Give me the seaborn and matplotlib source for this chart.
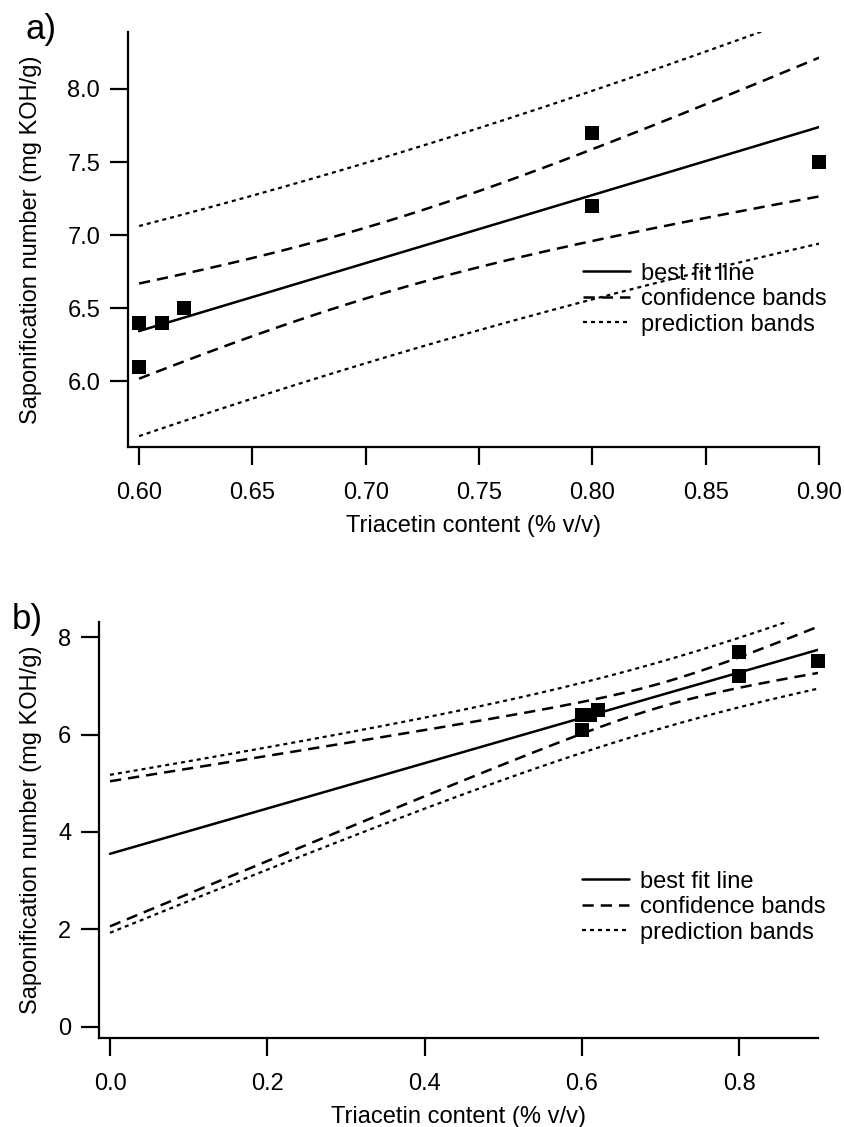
import numpy as np
import pandas as pd
import matplotlib
matplotlib.use("Agg")
import matplotlib.pyplot as plt
import seaborn as sns

# Data
triacetin = [0.60, 0.60, 0.61, 0.62, 0.80, 0.80, 0.90]
saponification = [6.4, 6.1, 6.4, 6.5, 7.7, 7.2, 7.5]
t_crit = 2.5706  # Student t, 95 %, 5 dof

a_xticks = [0.60, 0.65, 0.70, 0.75, 0.80, 0.85, 0.90]
a_yticks = [6.0, 6.5, 7.0, 7.5, 8.0]
b_xticks = [0.0, 0.2, 0.4, 0.6, 0.8]
b_yticks = [0, 2, 4, 6, 8]

sns.set_style("ticks")
plt.rcParams['font.family'] = ['Liberation Sans', 'DejaVu Sans']
plt.rcParams['font.size'] = 17
for k in ["text.color", "axes.labelcolor", "xtick.color", "ytick.color", "axes.edgecolor"]:
    plt.rcParams[k] = "black"

x = np.array(triacetin)
y = np.array(saponification)
n = len(x)
slope, intercept = np.polyfit(x, y, 1)
resid = y - (slope * x + intercept)
s = np.sqrt(np.sum(resid ** 2) / (n - 2))
sxx = np.sum((x - x.mean()) ** 2)


def bands(x0, x1):
    xs = np.linspace(x0, x1, 200)
    fit = slope * xs + intercept
    se_c = s * np.sqrt(1 / n + (xs - x.mean()) ** 2 / sxx)
    se_p = s * np.sqrt(1 + 1 / n + (xs - x.mean()) ** 2 / sxx)
    return pd.DataFrame({
        "x": xs, "fit": fit,
        "cu": fit + t_crit * se_c, "cl": fit - t_crit * se_c,
        "pu": fit + t_crit * se_p, "pl": fit - t_crit * se_p,
    })


pts = pd.DataFrame({"x": triacetin, "y": saponification})

fig = plt.figure(figsize=(8.45, 11.27), dpi=100)
W, H = 845, 1127
ax_a = fig.add_axes([128 / W, 1 - 447 / H, (819 - 128) / W, (447 - 32) / H])
ax_b = fig.add_axes([99 / W, 1 - 1038 / H, (818 - 99) / W, (1038 - 622) / H])

dash_c = (0, (4.5, 2.8))
dash_p = (0, (1.8, 1.8))

for ax, x0, xlim, ylim, xt, yt, xfmt, yfmt, leg_anchor, ylab_x in [
    (ax_a, 0.60, (0.5951, 0.9), (5.55, 8.39), a_xticks, a_yticks, "{:.2f}", "{:.1f}", (0.645, 0.467), (42 - 128) / 691),
    (ax_b, 0.0, (-0.014, 0.9), (-0.23, 8.31), b_xticks, b_yticks, "{:.1f}", "{:.0f}", (0.659, 0.425), (42 - 99) / 719),
]:
    df = bands(x0, 0.9)
    sns.lineplot(data=df, x="x", y="fit", ax=ax, color="black", lw=1.8, label="best fit line")
    sns.lineplot(data=df, x="x", y="cu", ax=ax, color="black", lw=1.8, linestyle=dash_c, label="confidence bands")
    sns.lineplot(data=df, x="x", y="cl", ax=ax, color="black", lw=1.8, linestyle=dash_c, label="_nolegend_")
    sns.lineplot(data=df, x="x", y="pu", ax=ax, color="black", lw=1.6, linestyle=dash_p, label="prediction bands")
    sns.lineplot(data=df, x="x", y="pl", ax=ax, color="black", lw=1.6, linestyle=dash_p, label="_nolegend_")
    sns.scatterplot(data=pts, x="x", y="y", ax=ax, marker="s", s=105, color="black",
                    edgecolor="black", linewidth=0, zorder=5, legend=False, clip_on=False)
    ax.set_xlim(*xlim)
    ax.set_ylim(*ylim)
    ax.set_xticks(xt)
    ax.set_xticklabels([xfmt.format(v) for v in xt])
    ax.set_yticks(yt)
    ax.set_yticklabels([yfmt.format(v) for v in yt])
    ax.tick_params(direction="out", length=13, width=1.6, labelsize=17)
    ax.tick_params(axis="x", pad=12)
    ax.tick_params(axis="y", pad=7)
    sns.despine(ax=ax)
    for sp in ["left", "bottom"]:
        ax.spines[sp].set_linewidth(1.6)
    ax.set_xlabel("Triacetin content (% v/v)", fontsize=17, labelpad=8)
    ax.set_ylabel("Saponification number (mg KOH/g)", fontsize=17)
    ax.yaxis.set_label_coords(ylab_x, 0.5)
    leg = ax.legend(loc="upper left", bbox_to_anchor=leg_anchor, frameon=False,
                    fontsize=17, handlelength=2.0, handletextpad=0.45,
                    labelspacing=0.15, borderaxespad=0)

fig.text(26 / W, 1 - 29 / H, "a)", fontsize=25, ha="left", va="center")
fig.text(12 / W, 1 - 619 / H, "b)", fontsize=25, ha="left", va="center")

fig.savefig("out.png", dpi=100)
